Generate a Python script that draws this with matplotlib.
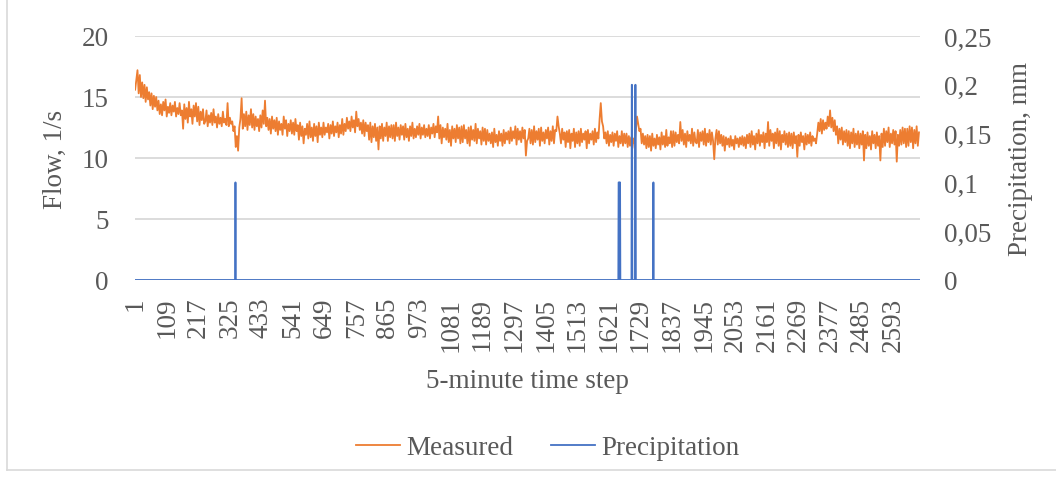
import numpy as np
import matplotlib

matplotlib.use("Agg")
import matplotlib.pyplot as plt
from matplotlib.lines import Line2D

# ---- data --------------------------------------------------------------
N_STEPS = 2684
TICK_EVERY = 108

# measured flow (l/s), read every 4th 5-minute step starting at step 1
# (one row = 80 steps)
measured = [
    15.6, 16.4, 17.2, 15.3, 16.8, 15.0, 16.2, 14.9, 16.0, 14.6, 15.8, 14.8, 15.4, 14.3, 15.3, 14.0, 15.1, 14.2, 15.0, 13.9,
    14.7, 13.6, 14.4, 13.5, 14.6, 13.9, 14.8, 13.4, 14.2, 13.7, 14.5, 13.5, 14.3, 13.8, 14.6, 13.4, 14.1, 13.6, 14.5, 13.5,
    13.9, 12.4, 14.4, 13.2, 14.1, 12.9, 14.6, 13.4, 14.0, 12.8, 14.3, 13.4, 14.5, 13.0, 14.2, 12.7, 13.8, 13.1, 14.0, 12.8,
    13.0, 13.9, 12.6, 13.5, 12.9, 13.7, 12.7, 14.0, 12.9, 13.4, 12.5, 13.6, 12.8, 13.3, 12.6, 13.8, 12.9, 13.2, 12.7, 14.5,
    12.6, 13.3, 12.8, 13.0, 12.2, 12.6, 10.9, 11.8, 10.6, 12.5, 13.2, 14.9, 12.4, 13.6, 12.6, 13.8, 12.3, 13.5, 12.7, 14.0,
    12.5, 13.6, 12.3, 13.4, 12.6, 13.2, 12.2, 13.5, 12.5, 13.9, 12.8, 14.7, 12.6, 13.3, 12.3, 13.2, 12.0, 13.4, 12.4, 13.1,
    12.2, 13.3, 11.9, 13.0, 12.3, 12.8, 11.9, 13.4, 12.4, 13.1, 11.8, 12.8, 12.2, 13.1, 12.0, 12.9, 11.9, 13.2, 12.2, 12.7,
    11.5, 12.9, 11.8, 12.6, 11.2, 12.4, 11.9, 12.8, 11.6, 13.0, 11.7, 12.5, 11.4, 12.8, 11.8, 12.6, 11.3, 12.9, 11.9, 12.5,
    11.7, 12.9, 11.9, 12.5, 12.1, 12.8, 11.6, 12.7, 12.0, 13.0, 11.8, 12.6, 12.1, 12.9, 11.7, 12.7, 12.0, 13.2, 11.9, 12.8,
    12.2, 13.3, 12.4, 13.0, 12.2, 13.4, 12.5, 13.1, 12.1, 13.8, 12.6, 13.2, 12.3, 12.9, 12.0, 13.1, 11.8, 12.9, 12.2, 12.7,
    11.5, 12.9, 11.3, 12.6, 11.7, 12.8, 11.4, 12.5, 10.7, 12.6, 11.6, 12.8, 11.4, 12.5, 11.8, 12.9, 11.4, 12.6, 11.7, 12.7,
    11.6, 12.7, 11.4, 12.9, 11.8, 12.5, 11.5, 12.7, 11.9, 12.6, 11.5, 12.8, 11.7, 12.4, 11.4, 12.6, 11.8, 12.9, 11.6, 12.4,
    11.7, 12.6, 11.9, 12.8, 11.6, 12.5, 11.9, 12.7, 11.7, 12.4, 11.8, 12.7, 11.6, 12.5, 12.0, 12.8, 11.7, 12.6, 12.1, 13.4,
    11.6, 12.7, 11.2, 12.5, 11.7, 12.4, 11.5, 12.8, 11.3, 12.3, 11.0, 12.6, 11.6, 12.4, 11.3, 12.7, 11.6, 12.5, 11.2, 12.6,
    11.3, 12.7, 11.6, 12.3, 11.2, 12.5, 11.0, 12.6, 11.5, 12.3, 11.4, 12.8, 11.2, 12.4, 11.6, 12.2, 11.1, 12.5, 11.4, 12.4,
    11.1, 12.3, 11.4, 12.0, 11.2, 12.1, 10.9, 12.4, 11.3, 11.9, 11.0, 12.2, 11.4, 12.0, 11.0, 12.3, 11.2, 12.1, 11.5, 12.2,
    11.2, 12.5, 11.4, 12.2, 11.6, 12.6, 11.1, 12.4, 11.5, 12.2, 11.3, 12.5, 11.6, 12.3, 10.2, 11.4, 11.6, 12.4, 11.2, 12.3,
    11.1, 12.6, 11.3, 12.2, 11.5, 12.4, 11.0, 12.5, 11.4, 12.1, 11.2, 12.3, 11.6, 12.5, 11.1, 12.2, 11.4, 12.6, 11.2, 12.3,
    12.2, 13.4, 12.6, 12.0, 11.2, 12.4, 11.5, 12.1, 10.9, 12.2, 11.3, 12.3, 10.8, 12.0, 11.4, 12.4, 10.9, 12.1, 11.2, 12.2,
    11.0, 12.4, 11.3, 12.0, 11.5, 12.2, 10.8, 12.3, 11.2, 12.0, 11.5, 12.2, 11.1, 12.4, 11.3, 12.1, 11.6, 13.2, 14.5, 13.0,
    12.6, 11.6, 12.1, 11.2, 12.2, 11.0, 11.9, 11.3, 12.1, 11.0, 12.0, 11.4, 12.2, 10.9, 11.8, 11.2, 12.2, 11.0, 12.0, 11.2,
    12.0, 10.9, 11.8, 11.0, 11.7, 10.8, 11.6, 11.2, 12.3, 13.4, 12.8, 12.2, 12.4, 11.2, 12.0, 11.1, 11.8, 10.8, 11.9, 10.9,
    11.8, 10.6, 12.0, 11.0, 11.6, 10.8, 11.9, 11.1, 11.7, 10.7, 12.1, 11.1, 11.8, 10.9, 12.3, 11.0, 11.7, 11.2, 12.2, 10.9,
    12.2, 11.0, 12.1, 11.3, 11.9, 11.2, 12.95, 11.4, 12.3, 11.1, 12.0, 10.9, 12.2, 11.4, 11.9, 11.2, 12.4, 11.0, 12.1, 11.3,
    11.2, 12.3, 10.9, 12.1, 11.4, 12.2, 11.1, 12.4, 11.0, 12.0, 11.3, 12.3, 11.1, 12.1, 11.4, 9.9, 11.6, 12.3, 11.1, 12.2,
    11.2, 11.9, 11.0, 11.8, 10.6, 11.7, 11.1, 11.6, 10.9, 11.8, 11.0, 11.5, 10.7, 11.8, 11.2, 11.6, 10.9, 11.7, 11.1, 11.8,
    11.0, 11.7, 10.8, 11.9, 11.2, 12.0, 10.9, 12.2, 11.1, 11.8, 10.7, 12.0, 11.2, 12.3, 11.0, 11.9, 11.3, 12.1, 10.8, 12.0,
    11.3, 12.95, 11.0, 12.3, 11.4, 12.0, 10.8, 12.1, 11.2, 12.4, 11.0, 12.2, 10.7, 11.9, 11.3, 12.2, 11.1, 12.0, 10.9, 12.1,
    11.0, 12.0, 10.8, 12.1, 11.2, 11.8, 10.1, 11.9, 11.0, 12.1, 11.3, 11.8, 10.7, 12.0, 11.1, 11.9, 11.2, 12.1, 11.0, 11.8,
    11.4, 11.6, 11.2, 12.0, 12.9, 12.2, 13.2, 12.0, 13.1, 12.3, 12.9, 12.4, 13.4, 12.6, 13.9, 12.5, 13.3, 12.2, 13.1, 11.9,
    12.6, 11.2, 12.4, 11.5, 12.5, 11.1, 12.2, 11.3, 12.3, 11.0, 12.2, 10.8, 12.1, 11.2, 12.4, 10.9, 12.0, 11.1, 12.2, 10.8,
    12.0, 11.1, 12.2, 9.8, 11.9, 10.8, 12.1, 11.0, 11.8, 10.7, 12.2, 11.2, 11.9, 10.8, 12.1, 11.0, 11.8, 9.8, 12.0, 10.9,
    12.4, 11.0, 12.2, 11.3, 12.5, 10.9, 12.0, 11.2, 12.3, 11.1, 12.2, 9.7, 11.9, 11.0, 12.3, 11.1, 12.5, 11.2, 12.4, 10.9,
    12.4, 11.0, 12.6, 11.3, 12.5, 10.8, 12.3, 11.2, 12.6, 11.0, 12.1,
]
MEASURED_STEP = 4

# precipitation events (mm); every other step is 0
rain_steps = [344, 1654, 1655, 1658, 1659, 1699, 1700, 1711, 1712, 1773]
rain_mm = [0.1, 0.1, 0.1, 0.1, 0.1, 0.2, 0.2, 0.2, 0.2, 0.1]

flow_ticks = [0, 5, 10, 15, 20]
rain_ticks = [0, 0.05, 0.1, 0.15, 0.2, 0.25]
rain_tick_labels = ["0", "0,05", "0,1", "0,15", "0,2", "0,25"]

# ---- build series --------------------------------------------------------
steps = np.arange(1, N_STEPS + 1)
meas_x = 1 + MEASURED_STEP * np.arange(len(measured))
precip = np.zeros(N_STEPS)
precip[np.array(rain_steps) - 1] = rain_mm

ORANGE = "#ED7D31"
BLUE = "#4472C4"
TXT = "#595959"
GRID = "#D9D9D9"
FS = 19.5

plt.rcParams["font.family"] = ["Liberation Serif", "DejaVu Serif"]

fig = plt.figure(figsize=(10.56, 4.81), dpi=100)
ax = fig.add_axes([135 / 1056, 1 - 281 / 481, 785 / 1056, 244 / 481])
ax2 = ax.twinx()

ax.plot(meas_x, measured, color=ORANGE, lw=1.3)
ax2.plot(steps, precip, color=BLUE, lw=1.3)

ax.set_xlim(0.5, N_STEPS + 0.5)
ax.set_ylim(0, 20)
ax2.set_ylim(0, 0.25)

ax.set_yticks(flow_ticks)
ax.set_yticklabels([str(t) for t in flow_ticks])
ax2.set_yticks(rain_ticks)
ax2.set_yticklabels(rain_tick_labels)

xt = np.arange(1, N_STEPS + 1, TICK_EVERY)
ax.set_xticks(xt)
ax.set_xticklabels([str(t) for t in xt], rotation=90)

ax.grid(axis="y", color=GRID, lw=1.3)
ax.set_axisbelow(True)
for a in (ax, ax2):
    for s in a.spines.values():
        s.set_visible(False)
    a.tick_params(length=0, labelsize=FS, labelcolor=TXT)
ax.tick_params(axis="y", pad=19)
ax.tick_params(axis="x", pad=12)
ax2.tick_params(axis="y", pad=17)

ax.set_xlabel("5-minute time step", fontsize=FS, color=TXT, labelpad=12)
ax.set_ylabel("Flow, 1/s", fontsize=FS, color=TXT, labelpad=10)
ax2.set_ylabel("Precipitation, mm", fontsize=FS, color=TXT, labelpad=12)

handles = [Line2D([], [], color=ORANGE, lw=1.3), Line2D([], [], color=BLUE, lw=1.3)]
fig.legend(handles, ["Measured", "Precipitation"], loc="center",
           bbox_to_anchor=(548 / 1056, 1 - 449 / 481), ncol=2, frameon=False,
           fontsize=FS, labelcolor=TXT, handlelength=1.6, handletextpad=0.25,
           columnspacing=1.4)

# chart-area border (left and bottom edges visible in the original)
fig.add_artist(Line2D([7 / 1056, 7 / 1056], [1 - 471 / 481, 1.0],
                      color=GRID, lw=1.2, transform=fig.transFigure))
fig.add_artist(Line2D([7 / 1056, 1.0], [1 - 471 / 481, 1 - 471 / 481],
                      color=GRID, lw=1.2, transform=fig.transFigure))

fig.savefig("out.png", dpi=100)
